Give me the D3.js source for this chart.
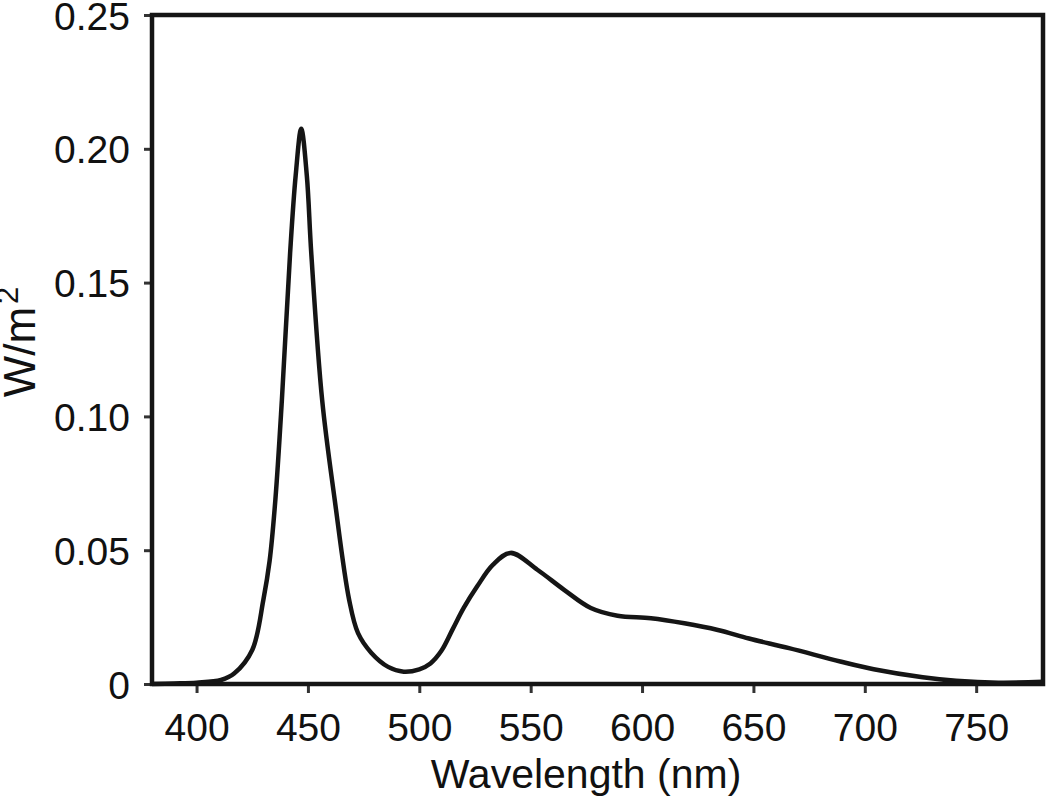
<!DOCTYPE html>
<html lang="en">

<head>
    <meta charset="UTF-8">
    <title>Spectrum</title>
    <script src="https://d3js.org/d3.v7.min.js"></script>
    <style type="text/css">
        body {
            margin: 0;
            background: #fff;
        }

        svg text {
            font-family: "Liberation Sans", Arial, Helvetica, sans-serif;
            fill: #111;
        }

        .axis path {
            display: none;
        }

        .axis line {
            stroke: #333;
            stroke-width: 3px;
        }
    </style>
</head>

<body>
    <div id="chartArea"></div>
    <script type="text/javascript">
        // spectral irradiance
        var wavelength = [380, 390, 400, 411, 417, 425, 430, 432.8, 435.4, 438.3, 442, 444.5, 447, 449.5, 451.5, 456.4,
            462, 468.5, 472.5, 478.5, 486, 493, 500, 505, 510, 515, 520, 526, 533, 541, 553, 565, 577, 589, 604, 619,
            634, 648, 666, 689, 704, 726, 741, 760, 780];
        var irradiance = [0, 0.0002, 0.0005, 0.0015, 0.004, 0.0127, 0.0315, 0.046, 0.069, 0.106, 0.161, 0.19, 0.2075,
            0.19, 0.161, 0.106, 0.069, 0.0315, 0.019, 0.0116, 0.0064, 0.0046, 0.0055, 0.0077, 0.0125, 0.0205, 0.0285,
            0.0365, 0.0445, 0.049, 0.0427, 0.0352, 0.0284, 0.0255, 0.0246, 0.0227, 0.0202, 0.017, 0.0134, 0.0084,
            0.0055, 0.0025, 0.0012, 0.0005, 0.0008];
        var xTicks = [400, 450, 500, 550, 600, 650, 700, 750];
        var yTicks = [0, 0.05, 0.10, 0.15, 0.20, 0.25];

        var W = 1050, H = 798;
        var margin = { top: 15, right: 7, bottom: 114, left: 152 };
        var w = W - margin.left - margin.right,
            h = H - margin.top - margin.bottom;

        var root = d3.select('#chartArea').append('svg')
            .attr('width', W)
            .attr('height', H);
        var svg = root.append('g')
            .attr('transform', 'translate(' + margin.left + ', ' + margin.top + ')');

        var xScale = d3.scaleLinear().domain([380, 780]).range([0, w]);
        var yScale = d3.scaleLinear().domain([0, 0.25]).range([h, 0]);

        var xAxis = svg.append('g')
            .attr('class', 'axis')
            .attr('transform', 'translate(0,' + h + ')')
            .call(d3.axisBottom(xScale).tickValues(xTicks).tickSize(9).tickPadding(20));
        xAxis.selectAll('text').style('font-size', '39px');

        var yAxis = svg.append('g')
            .attr('class', 'axis')
            .call(d3.axisLeft(yScale).tickValues(yTicks).tickSize(8).tickPadding(14)
                .tickFormat(function (d) { return d === 0 ? '0' : d.toFixed(2); }));
        yAxis.selectAll('text').style('font-size', '39px').attr('dy', '0.36em');

        // frame
        svg.append('rect')
            .attr('x', 0).attr('y', 0)
            .attr('width', w).attr('height', h)
            .attr('fill', 'none')
            .attr('stroke', '#151515')
            .attr('stroke-width', 4.5);

        var line = d3.line()
            .x(function (d, i) { return xScale(wavelength[i]); })
            .y(function (d) { return yScale(d); })
            .curve(d3.curveCatmullRom.alpha(0.5));

        svg.append('path')
            .datum(irradiance)
            .attr('d', line)
            .attr('fill', 'none')
            .attr('stroke', '#151515')
            .attr('stroke-width', 4.5)
            .attr('stroke-linejoin', 'round');

        root.append('text')
            .attr('x', 586).attr('y', 788)
            .attr('text-anchor', 'middle')
            .style('font-size', '41px')
            .text('Wavelength (nm)');

        var yLabel = root.append('text')
            .attr('transform', 'translate(35,342) rotate(-90)')
            .attr('text-anchor', 'middle')
            .style('font-size', '44px');
        yLabel.append('tspan').text('W/m');
        yLabel.append('tspan').attr('dx', 3).attr('baseline-shift', 'super').style('font-size', '31px').text('2');
    </script>
</body>

</html>
